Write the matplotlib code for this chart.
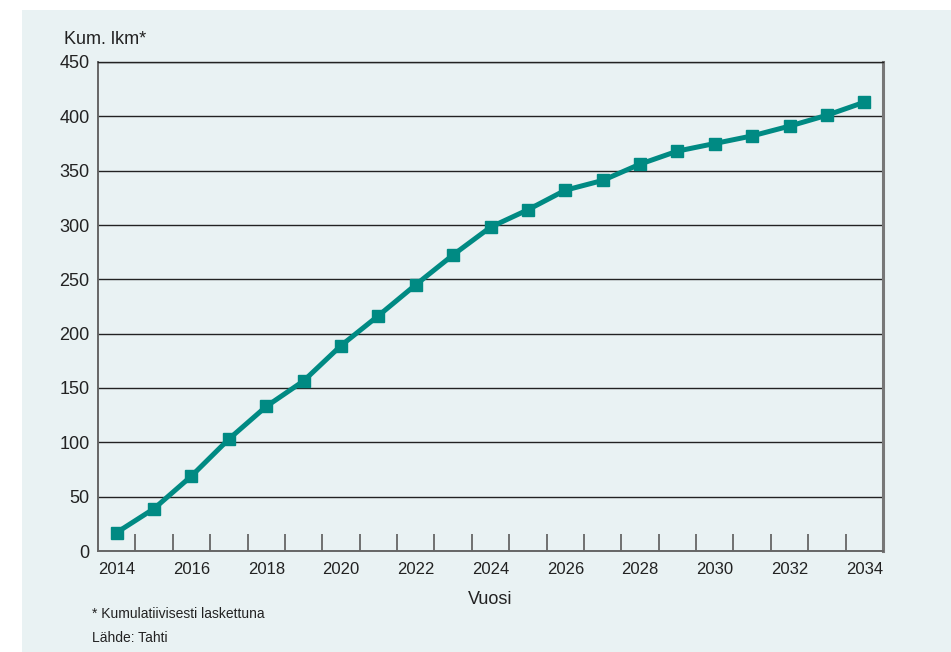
import matplotlib.pyplot as plt
from matplotlib.patches import Rectangle
from matplotlib.ticker import FixedLocator, NullFormatter

plt.rcParams['font.family'] = ['Liberation Sans', 'DejaVu Sans']

years = list(range(2014, 2035))
cumulative = [17, 39, 69, 103, 133, 156.5, 189, 216.5, 245, 272.5, 298,
              314, 332, 341, 356, 368, 375, 382, 391, 401, 413]
year_labels = [str(y) for y in range(2014, 2035, 2)]

bg = '#e9f2f3'
teal = '#008a83'

fig = plt.figure(figsize=(9.51, 6.52), dpi=100)
fig.patches.append(Rectangle((22 / 951, 0), 1, 1 - 10 / 652, transform=fig.transFigure,
                             facecolor=bg, edgecolor='none', zorder=-10))

ax = fig.add_axes([98 / 951, 1 - 551 / 652, (883 - 98) / 951, (551 - 62) / 652])
ax.set_facecolor(bg)

ax.plot(years, cumulative, color=teal, linewidth=3.6, marker='s', markersize=8.5,
        solid_joinstyle='miter', zorder=3)

ax.set_xlim(2013.5, 2034.5)
ax.set_ylim(0, 450)
ax.set_yticks(range(0, 451, 50))
ax.yaxis.grid(True, color='#222222', linewidth=1)
ax.set_axisbelow(True)

ax.set_xticks(range(2014, 2035, 2))
ax.set_xticklabels(year_labels)
ax.xaxis.set_minor_locator(FixedLocator([y + 0.5 for y in range(2014, 2034)]))
ax.xaxis.set_minor_formatter(NullFormatter())
ax.tick_params(axis='x', which='major', length=0, pad=8, labelsize=12, colors='#222222')
ax.tick_params(axis='x', which='minor', direction='in', length=12, width=1.3, color='#666666')
ax.tick_params(axis='y', length=0, pad=6, labelsize=13, colors='#222222')

for side in ['left', 'bottom']:
    ax.spines[side].set_color('#666666')
    ax.spines[side].set_linewidth(1.4)
ax.spines['right'].set_color('#777777')
ax.spines['right'].set_linewidth(2.2)
ax.spines['top'].set_color('#222222')
ax.spines['top'].set_linewidth(1)

fig.text(64 / 951, 1 - 40 / 652, 'Kum. lkm*', fontsize=13, color='#222222', va='center')
ax.set_xlabel('Vuosi', fontsize=13, color='#222222', labelpad=10)
fig.text(92 / 951, 1 - 614 / 652, '* Kumulatiivisesti laskettuna', fontsize=10,
         color='#222222', va='center')
fig.text(92 / 951, 1 - 638 / 652, 'Lähde: Tahti', fontsize=10, color='#222222', va='center')

fig.savefig('out.png', dpi=100)
